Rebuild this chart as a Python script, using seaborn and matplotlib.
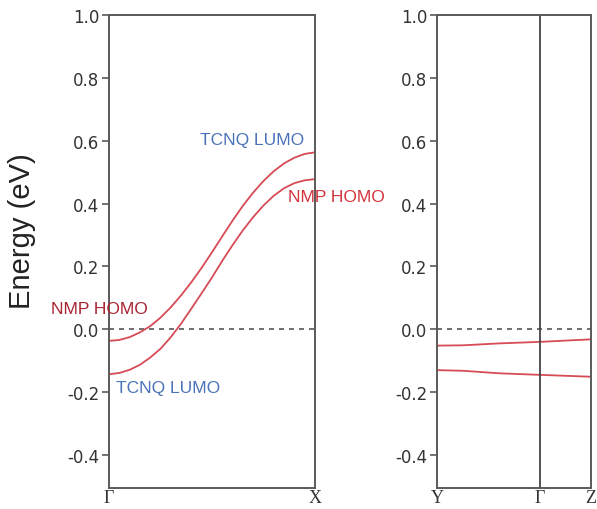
import numpy as np
import pandas as pd
import seaborn as sns
import matplotlib.pyplot as plt

# Band structure values (energy in eV)
# Gamma -> X panel, k as fraction of the path
k_gx = [0.00, 0.05, 0.10, 0.15, 0.20, 0.25, 0.30, 0.35, 0.40, 0.45, 0.50,
        0.55, 0.60, 0.65, 0.70, 0.75, 0.80, 0.85, 0.90, 0.95, 1.00]
band_upper_gx = [-0.037, -0.034, -0.025, -0.010, 0.010, 0.037, 0.070, 0.108, 0.150, 0.196, 0.245,
                 0.296, 0.346, 0.393, 0.435, 0.472, 0.503, 0.528, 0.546, 0.558, 0.563]
band_lower_gx = [-0.143, -0.139, -0.129, -0.113, -0.090, -0.062, -0.025, 0.018, 0.066, 0.115, 0.165,
                 0.218, 0.268, 0.315, 0.357, 0.394, 0.425, 0.449, 0.465, 0.474, 0.478]

# Y -> Gamma -> Z panel
k_ygz = [0.0, 0.17, 0.40, 0.669, 1.0]
band_upper_ygz = [-0.052, -0.051, -0.045, -0.040, -0.032]
band_lower_ygz = [-0.130, -0.132, -0.140, -0.145, -0.151]

labels_gx = ["Γ", "X"]
labels_ygz = ["Y", "Γ", "Z"]
ticks_gx = [0.0, 1.0]
ticks_ygz = [0.0, 0.669, 1.0]
yticks = [-0.4, -0.2, 0.0, 0.2, 0.4, 0.6, 0.8, 1.0]

sns.set_style("ticks")
plt.rcParams['font.family'] = ['Liberation Sans', 'DejaVu Sans']

line_col = "#d64b55"
spine_col = "#5a5a5a"
text_col = "#333333"

fig = plt.figure(figsize=(5.97, 5.10), dpi=100)
ax1 = fig.add_axes([109/597, 21/510, 206/597, 473/510])
ax2 = fig.add_axes([437/597, 21/510, 154/597, 473/510])

df_gx = pd.concat([
    pd.DataFrame({"k": k_gx, "E": band_upper_gx, "band": "upper"}),
    pd.DataFrame({"k": k_gx, "E": band_lower_gx, "band": "lower"}),
])
df_ygz = pd.concat([
    pd.DataFrame({"k": k_ygz, "E": band_upper_ygz, "band": "upper"}),
    pd.DataFrame({"k": k_ygz, "E": band_lower_ygz, "band": "lower"}),
])

for ax, df, ticks, labels in [(ax1, df_gx, ticks_gx, labels_gx),
                              (ax2, df_ygz, ticks_ygz, labels_ygz)]:
    sns.lineplot(data=df, x="k", y="E", units="band", estimator=None,
                 color=line_col, lw=1.3, ax=ax, legend=False)
    ax.axhline(0, color="#555555", lw=1.2, ls=(0, (3, 3)), zorder=1)
    ax.set_xlim(0, 1)
    ax.set_ylim(-0.505, 1.0)
    ax.set_yticks(yticks)
    ax.set_yticklabels([f"{v:.1f}" for v in yticks], fontsize=12, color=text_col,
                       family=['DejaVu Sans'])
    ax.set_xticks(ticks)
    ax.set_xticklabels(labels, fontsize=13, color=text_col,
                       family=['Liberation Serif', 'DejaVu Serif'])
    ax.tick_params(axis="x", length=0, pad=1)
    ax.tick_params(axis="y", length=5, width=1.2, color=spine_col, pad=2)
    ax.set_xlabel("")
    ax.set_ylabel("")
    for s in ax.spines.values():
        s.set_color(spine_col)
        s.set_linewidth(1.4)

ax2.axvline(ticks_ygz[1], color="#444444", lw=1.3)

fig.text(22/597, 1 - 231/510, "Energy (eV)", rotation=90, fontsize=21,
         ha="center", va="center", color="#222222")

fig.text(252/597, 1 - 140/510, "TCNQ LUMO", color="#4a72b8", fontsize=12.5,
         ha="center", va="center")
fig.text(336/597, 1 - 198/510, "NMP HOMO", color="#d3343d", fontsize=12.5,
         ha="center", va="center")
fig.text(99/597, 1 - 310/510, "NMP HOMO", color="#a82430", fontsize=12.5,
         ha="center", va="center")
fig.text(168/597, 1 - 389/510, "TCNQ LUMO", color="#4a72b8", fontsize=12.5,
         ha="center", va="center")

fig.savefig("out.png", dpi=100)
